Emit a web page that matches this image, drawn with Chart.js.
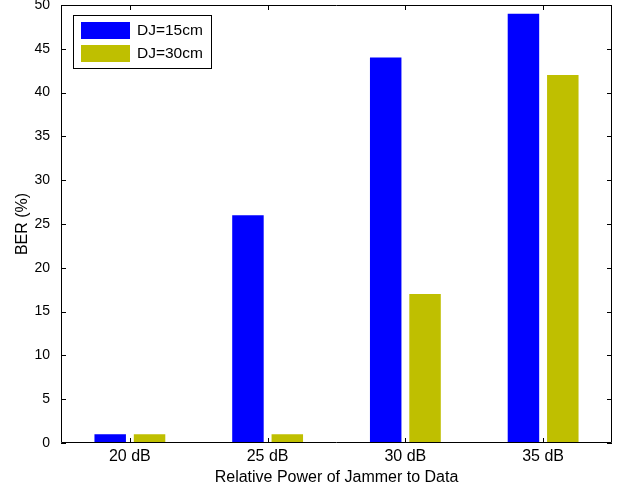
<!DOCTYPE html>
<html>
<head>
<meta charset="utf-8">
<script src="https://cdn.jsdelivr.net/npm/chart.js@4/dist/chart.umd.min.js"></script>
<style>
html,body{margin:0;padding:0;background:#fff;}
#c{display:block;}
</style>
</head>
<body>
<canvas id="c" width="621" height="492"></canvas>
<script>
const categories = ['20 dB', '25 dB', '30 dB', '35 dB'];
const seriesLabels = ['DJ=15cm', 'DJ=30cm'];
const berDJ15 = [1, 26, 44, 49];
const berDJ30 = [1, 1, 17, 42];
const yMin = 0, yMax = 50, yStep = 5;
const colors = ['#0000FF', '#BFBF00'];
const FONT = 'Liberation Sans, Arial, Helvetica, sans-serif';

const matlabFrame = {
  id: 'matlabFrame',
  afterDatasetsDraw(chart) {
    const ctx = chart.ctx;
    const a = chart.chartArea;
    const xs = chart.scales.x, ys = chart.scales.y;
    const tl = 5;
    ctx.save();
    ctx.strokeStyle = '#000';
    ctx.lineWidth = 1;
    ctx.beginPath();
    ctx.rect(Math.round(a.left) + 0.5, Math.round(a.top) + 0.5, Math.round(a.right - a.left) - 1, Math.round(a.bottom - a.top) - 1);
    ctx.stroke();
    ctx.beginPath();
    for (let v = yMin; v <= yMax; v += yStep) {
      const y = Math.round(ys.getPixelForValue(v)) + 0.5;
      ctx.moveTo(a.left, y); ctx.lineTo(a.left + tl, y);
      ctx.moveTo(a.right, y); ctx.lineTo(a.right - tl, y);
    }
    categories.forEach((c, i) => {
      const x = Math.round(xs.getPixelForValue(i)) + 0.5;
      ctx.moveTo(x, a.bottom); ctx.lineTo(x, a.bottom - tl);
      ctx.moveTo(x, a.top); ctx.lineTo(x, a.top + tl);
    });
    ctx.stroke();

    // legend box
    const lx = a.left + 12, ly = a.top + 10, lw = 138, lh = 53;
    ctx.fillStyle = '#fff';
    ctx.fillRect(lx, ly, lw, lh);
    ctx.strokeRect(lx + 0.5, ly + 0.5, lw, lh);
    ctx.font = '15.5px ' + FONT;
    ctx.textBaseline = 'middle';
    ctx.textAlign = 'left';
    chart.data.datasets.forEach((ds, i) => {
      const sy = ly + 7 + i * 23;
      ctx.fillStyle = ds.backgroundColor;
      ctx.fillRect(lx + 8, sy, 49, 17);
      ctx.fillStyle = '#000';
      ctx.fillText(ds.label, lx + 64, sy + 9);
    });
    ctx.restore();
  }
};

new Chart(document.getElementById('c'), {
  type: 'bar',
  data: {
    labels: categories,
    datasets: [
      { label: seriesLabels[0], data: berDJ15, backgroundColor: colors[0] },
      { label: seriesLabels[1], data: berDJ30, backgroundColor: colors[1] }
    ]
  },
  options: {
    responsive: false,
    devicePixelRatio: 1,
    animation: false,
    layout: { padding: { top: 5, right: 9, left: 0, bottom: 0 } },
    datasets: { bar: { categoryPercentage: 0.5714, barPercentage: 0.8, borderWidth: 0 } },
    plugins: { legend: { display: false }, tooltip: { enabled: false } },
    scales: {
      x: {
        grid: { display: false, drawTicks: false, tickLength: 0 },
        border: { display: false },
        ticks: { color: '#000', font: { family: FONT, size: 16 }, padding: 4, maxRotation: 0 },
        title: { display: true, text: 'Relative Power of Jammer to Data', color: '#000', font: { family: FONT, size: 16 }, padding: { top: 0, bottom: 5 } },
        afterFit(s) { s.height = 49; s.paddingLeft = 0; s.paddingRight = 0; }
      },
      y: {
        min: yMin, max: yMax,
        grid: { display: false, drawTicks: false, tickLength: 0 },
        border: { display: false },
        ticks: { stepSize: yStep, color: '#000', font: { family: FONT, size: 14 }, padding: 11 },
        title: { display: true, text: 'BER (%)', color: '#000', font: { family: FONT, size: 16 }, padding: { top: 13, bottom: 0 } },
        afterFit(s) { s.width = 61; s.paddingTop = 0; s.paddingBottom = 0; }
      }
    }
  },
  plugins: [matlabFrame]
});
</script>
</body>
</html>
